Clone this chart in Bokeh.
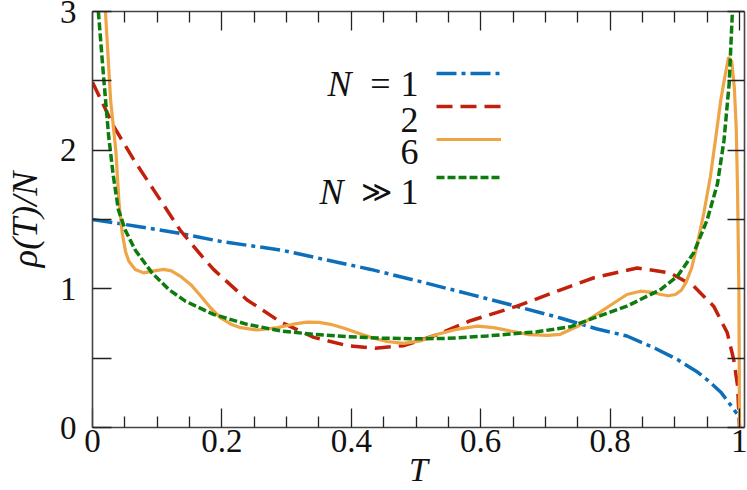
from bokeh.plotting import figure
from bokeh.models import (Range1d, LinearAxis, FixedTicker, CustomJSTickFormatter,
                          Label, Legend, LegendItem)
from bokeh.embed import file_html
from bokeh.resources import INLINE

# ---------------- data ----------------
t_n1 = [0.0, 0.07, 0.136, 0.2, 0.291, 0.36, 0.43, 0.5, 0.584, 0.65, 0.723, 0.78,
        0.826, 0.87, 0.904, 0.935, 0.955, 0.972, 0.985, 0.996]
rho_n1 = [1.50, 1.45, 1.40, 1.34, 1.28, 1.21, 1.14, 1.06, 0.96, 0.88, 0.79, 0.71,
          0.66, 0.57, 0.49, 0.40, 0.325, 0.25, 0.17, 0.10]

t_n2 = [0.0, 0.033, 0.064, 0.095, 0.136, 0.17, 0.187, 0.239, 0.291, 0.342, 0.394,
        0.437, 0.481, 0.533, 0.584, 0.656, 0.728, 0.775, 0.842, 0.893, 0.929,
        0.96, 0.981, 0.991, 0.997, 1.0]
rho_n2 = [2.49, 2.17, 1.93, 1.71, 1.42, 1.23, 1.14, 0.92, 0.76, 0.65, 0.59,
          0.572, 0.59, 0.67, 0.77, 0.875, 1.00, 1.08, 1.15, 1.115, 1.02,
          0.875, 0.684, 0.49, 0.30, 0.0]

t_n6 = [0.020, 0.028, 0.036, 0.041, 0.046, 0.051, 0.056, 0.066, 0.079, 0.095,
        0.11, 0.122, 0.136, 0.152, 0.167, 0.183, 0.198, 0.214, 0.229, 0.255,
        0.286, 0.31, 0.332, 0.35, 0.368, 0.389, 0.409, 0.43, 0.455, 0.481,
        0.507, 0.533, 0.565, 0.595, 0.62, 0.646, 0.675, 0.703, 0.723, 0.75,
        0.775, 0.80, 0.826, 0.847, 0.865, 0.878, 0.89, 0.901, 0.91, 0.917,
        0.926, 0.934, 0.945, 0.955, 0.963, 0.971, 0.977, 0.983, 0.988, 0.992,
        0.995, 0.997, 0.999, 1.0]
rho_n6 = [3.0, 2.36, 2.0, 1.62, 1.40, 1.27, 1.20, 1.14, 1.115, 1.13,
          1.14, 1.13, 1.09, 1.03, 0.95, 0.86, 0.79, 0.745, 0.72, 0.703,
          0.72, 0.745, 0.76, 0.758, 0.744, 0.716, 0.684, 0.65, 0.62, 0.607,
          0.625, 0.672, 0.71, 0.731, 0.72, 0.696, 0.67, 0.665, 0.672, 0.73,
          0.803, 0.88, 0.959, 0.983, 0.975, 0.959, 0.95, 0.959, 0.99, 1.043,
          1.15, 1.306, 1.55, 1.81, 2.08, 2.36, 2.52, 2.67, 2.64, 2.45,
          2.15, 1.7, 1.0, 0.0]

t_ninf = [0.009, 0.018, 0.025, 0.032, 0.04, 0.051, 0.066, 0.092, 0.118, 0.144,
          0.187, 0.239, 0.291, 0.342, 0.394, 0.44, 0.5, 0.55, 0.61, 0.687,
          0.739, 0.775, 0.826, 0.878, 0.904, 0.929, 0.95, 0.966, 0.976, 0.984,
          0.989]
rho_ninf = [3.0, 2.48, 2.10, 1.82, 1.57, 1.42, 1.28, 1.115, 0.995, 0.91,
            0.816, 0.744, 0.696, 0.672, 0.655, 0.645, 0.64, 0.643, 0.66, 0.69,
            0.727, 0.79, 0.875, 0.995, 1.09, 1.258, 1.497, 1.76, 2.07, 2.48,
            3.0]

x_major = [0.0, 0.2, 0.4, 0.6, 0.8, 1.0]
x_minor = [0.05, 0.1, 0.15, 0.25, 0.3, 0.35, 0.45, 0.5, 0.55, 0.65, 0.7, 0.75,
           0.85, 0.9, 0.95]
y_ticks = [0.0, 0.5, 1.0, 1.5, 2.0, 2.5, 3.0]

legend_numbers = ["1", "2", "6", "1"]

BLUE = "#0d6fba"
RED = "#c3200c"
ORANGE = "#efa446"
GREEN = "#0c7c0c"
SERIF = "'Liberation Serif', 'DejaVu Serif', serif"
INK = "#111111"

FH = 418
p = figure(width=747, height=490, output_backend="svg", toolbar_location=None,
           x_range=Range1d(0, 1.0077), y_range=Range1d(0, 3),
           min_border_left=92, min_border_right=3, min_border_top=11,
           min_border_bottom=61, x_axis_location=None, y_axis_location=None)
p.outline_line_color = None
p.xgrid.visible = False
p.ygrid.visible = False
p.background_fill_color = "white"
p.border_fill_color = "white"

def style_axis(ax, ticks, minor, major_in, minor_in, fmt_code, font_size, standoff):
    ax.ticker = FixedTicker(ticks=ticks, minor_ticks=minor)
    ax.formatter = CustomJSTickFormatter(code=fmt_code)
    ax.major_tick_in = major_in
    ax.major_tick_out = 0
    ax.minor_tick_in = minor_in
    ax.minor_tick_out = 0
    ax.major_tick_line_color = "#222222"
    ax.minor_tick_line_color = "#222222"
    ax.major_tick_line_width = 1.3
    ax.minor_tick_line_width = 1.3
    ax.axis_line_color = "#444444"
    ax.axis_line_width = 1.6
    ax.major_label_text_font = SERIF
    ax.major_label_text_font_size = font_size
    ax.major_label_text_color = INK
    ax.major_label_standoff = standoff

xfmt = "return String(Math.round(tick*10)/10)"
yfmt = "return Number.isInteger(tick) ? String(tick) : ''"
empty = "return ''"

bottom = LinearAxis()
style_axis(bottom, x_major, x_minor, 19, 11, xfmt, "33px", 2)
bottom.major_label_text_line_height = 1.0
bottom.axis_label = "T"
bottom.axis_label_text_font = SERIF
bottom.axis_label_text_font_style = "italic"
bottom.axis_label_text_font_size = "34px"
bottom.axis_label_text_line_height = 1.0
bottom.axis_label_text_color = INK
bottom.axis_label_standoff = -4

top = LinearAxis()
style_axis(top, x_major, x_minor, 19, 11, empty, "0px", 0)

left = LinearAxis()
style_axis(left, y_ticks, [], 19, 0, yfmt, "33px", 16)
left.axis_label = "\u03c1(T)/N"
left.axis_label_text_font = SERIF
left.axis_label_text_font_style = "italic"
left.axis_label_text_font_size = "36px"
left.axis_label_text_line_height = 1.0
left.axis_label_text_color = INK
left.axis_label_standoff = 12

right = LinearAxis()
style_axis(right, y_ticks, [], 17, 0, empty, "0px", 0)

p.add_layout(bottom, "below")
p.add_layout(top, "above")
p.add_layout(left, "left")
p.add_layout(right, "right")

r1 = p.line(t_n1, rho_n1, line_color=BLUE, line_width=3.5, line_dash="20 5 4 5")
r2 = p.line(t_n2, rho_n2, line_color=RED, line_width=3.5, line_dash="16 8")
r6 = p.line(t_n6, rho_n6, line_color=ORANGE, line_width=3.2)
rinf = p.line(t_ninf, rho_ninf, line_color=GREEN, line_width=3.5, line_dash="8 3")

# legend: one single-item legend per row, line sample to the right of the text
row_centers = [64, 97.3, 129.7, 168.3]   # from frame top
GH = 20
for r, c in zip([r1, r2, r6, rinf], row_centers):
    lg = Legend(items=[LegendItem(label=" ", renderers=[r])],
                location=(344, FH - c - GH / 2), padding=0, margin=0,
                glyph_width=65, glyph_height=GH, label_height=GH,
                label_width=0, label_standoff=0, spacing=0,
                label_text_font_size="1px", border_line_color=None,
                background_fill_alpha=0)
    p.add_layout(lg)

baselines = [74, 110.7, 142.3, 182.3]   # from frame top
for txt, b in zip(legend_numbers, baselines):
    p.add_layout(Label(x=326, y=FH - b, x_units="screen", y_units="screen",
                       text=txt, text_font=SERIF, text_font_size="36px",
                       text_align="right", text_baseline="alphabetic",
                       text_color=INK))
p.add_layout(Label(x=247, y=FH - baselines[0], x_units="screen", y_units="screen",
                   text="N", text_font=SERIF, text_font_style="italic",
                   text_font_size="36px", text_align="center",
                   text_baseline="alphabetic", text_color=INK))
p.add_layout(Label(x=288, y=FH - baselines[0], x_units="screen", y_units="screen",
                   text="=", text_font=SERIF, text_font_size="36px",
                   text_align="center", text_baseline="alphabetic",
                   text_color=INK))
p.add_layout(Label(x=239, y=FH - baselines[3], x_units="screen", y_units="screen",
                   text="N", text_font=SERIF, text_font_style="italic",
                   text_font_size="36px", text_align="center",
                   text_baseline="alphabetic", text_color=INK))
p.add_layout(Label(x=284, y=FH - baselines[3], x_units="screen", y_units="screen",
                   text="\u226b", text_font="'DejaVu Serif', serif", text_font_size="30px",
                   text_align="center", text_baseline="alphabetic",
                   text_color=INK))

open("out.html", "w").write(file_html(p, INLINE))
